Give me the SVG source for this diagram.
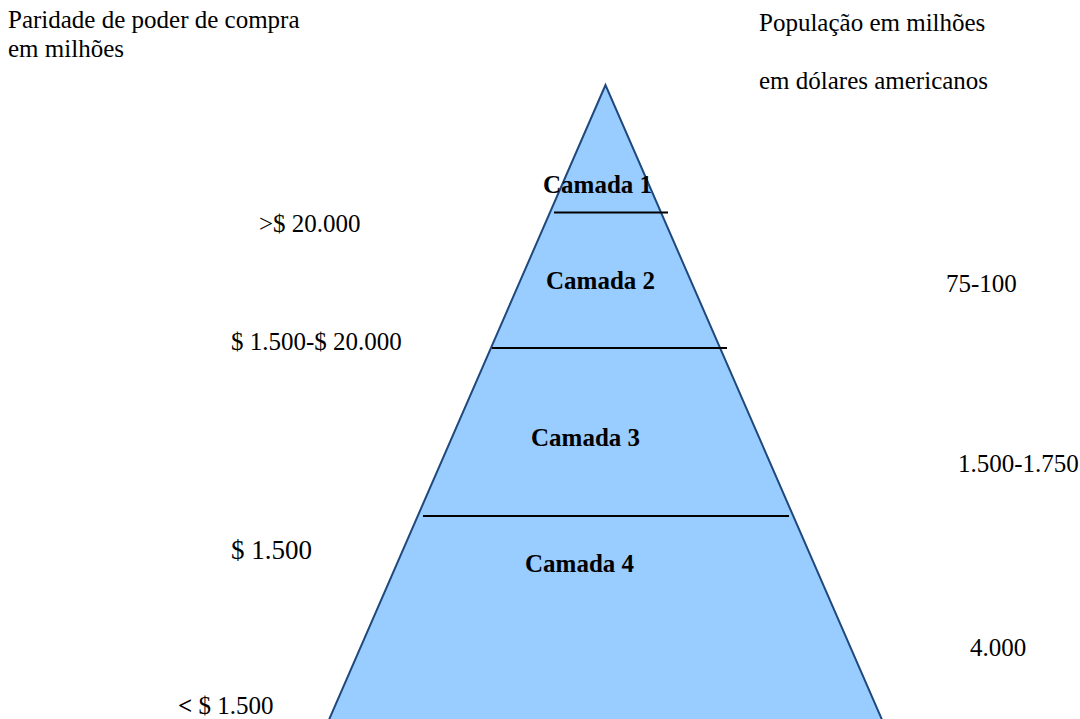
<svg xmlns="http://www.w3.org/2000/svg" width="1080" height="719" viewBox="0 0 1080 719">
<style>
text{font-family:"Liberation Serif","Times New Roman",serif;font-size:25px;fill:#000}
.b{font-weight:bold}
.div{stroke:#000;stroke-width:2}
</style>
<rect width="1080" height="719" fill="#fff"/>
<g id="pyramid">
<polygon points="605.5,85 328,722 883,722" fill="#99CCFF" stroke="#1F497D" stroke-width="2"/>
</g>
<g id="connectors">
<line class="div" x1="554" y1="212.5" x2="668" y2="212.5"/>
<line class="div" x1="492" y1="348" x2="727" y2="348"/>
<line class="div" x1="423" y1="516" x2="789" y2="516"/>
</g>
<g id="layer1"><text class="b" x="543" y="193">Camada 1</text></g>
<g id="layer2"><text class="b" x="546" y="289">Camada 2</text></g>
<g id="layer3"><text class="b" x="531" y="446">Camada 3</text></g>
<g id="layer4"><text class="b" x="525" y="572">Camada 4</text></g>
<g id="left-labels">
<text x="8" y="28">Paridade de poder de compra</text>
<text x="8" y="57">em milhões</text>
<text x="259" y="232">&gt;$ 20.000</text>
<text x="231" y="350">$ 1.500-$ 20.000</text>
<text x="231" y="559" style="font-size:27px">$ 1.500</text>
<text x="178" y="714"><tspan class="b">&lt;</tspan> $ 1.500</text>
</g>
<g id="right-labels">
<text x="759" y="31">População em milhões</text>
<text x="759" y="89">em dólares americanos</text>
<text x="946" y="292">75-100</text>
<text x="958" y="472">1.500-1.750</text>
<text x="970" y="656">4.000</text>
</g>
</svg>
